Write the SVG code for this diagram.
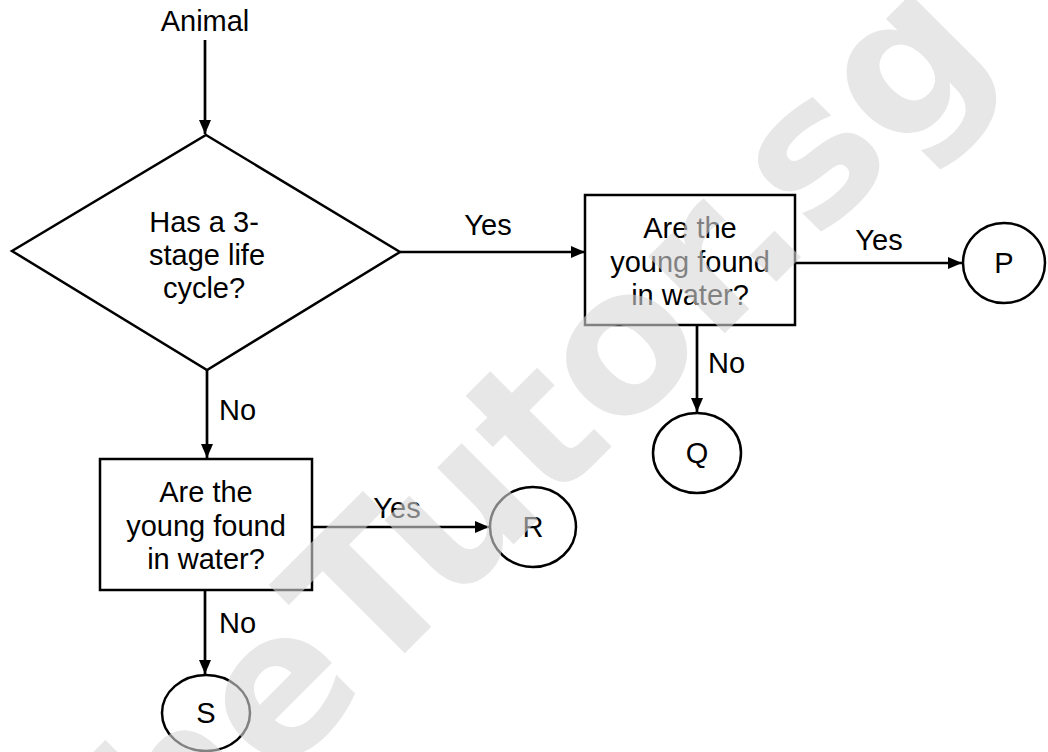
<svg xmlns="http://www.w3.org/2000/svg" width="1048" height="752" viewBox="0 0 1048 752">
  <style>
    .shape { fill: none; stroke: #000; stroke-width: 2.5; }
    .edge { fill: none; stroke: #000; stroke-width: 2.7; }
    .txt { font-family: "Liberation Sans", Arial, sans-serif; font-size: 29px; fill: #000; }
    .mid { text-anchor: middle; }
    .wm { font-family: "DejaVu Sans", Verdana, sans-serif; font-weight: bold; font-size: 198px; fill: #d8d8d8; opacity: 0.6; }
  </style>
  <defs>
    <marker id="arrow" viewBox="0 0 14 12" refX="14" refY="6" markerWidth="14" markerHeight="12" markerUnits="userSpaceOnUse" orient="auto">
      <path d="M0,0 L14,6 L0,12 Z" fill="#000"/>
    </marker>
  </defs>
  <rect width="1048" height="752" fill="#fff"/>

  <!-- connectors -->
  <g id="connectors">
    <line class="edge" x1="205" y1="40" x2="205" y2="134" marker-end="url(#arrow)"/>
    <line class="edge" x1="400" y1="252" x2="585" y2="252" marker-end="url(#arrow)"/>
    <line class="edge" x1="795" y1="263" x2="962" y2="263" marker-end="url(#arrow)"/>
    <line class="edge" x1="697" y1="325" x2="697" y2="412" marker-end="url(#arrow)"/>
    <line class="edge" x1="207" y1="370" x2="207" y2="458" marker-end="url(#arrow)"/>
    <line class="edge" x1="312" y1="527" x2="489" y2="527" marker-end="url(#arrow)"/>
    <line class="edge" x1="205" y1="590" x2="205" y2="674" marker-end="url(#arrow)"/>
    <text class="txt mid" x="488" y="235">Yes</text>
    <text class="txt mid" x="879" y="250">Yes</text>
    <text class="txt mid" x="397" y="518">Yes</text>
    <text class="txt" x="219" y="420">No</text>
    <text class="txt" x="219" y="633">No</text>
    <text class="txt" x="708" y="373">No</text>
  </g>

  <g id="start">
    <text class="txt mid" x="205" y="31">Animal</text>
  </g>

  <g id="decision-life-cycle">
    <polygon class="shape" points="206,135 400,252 207,370 12,251"/>
    <text class="txt mid" x="204" y="232">Has a 3-</text>
    <text class="txt mid" x="207" y="265">stage life</text>
    <text class="txt mid" x="204" y="298">cycle?</text>
  </g>

  <g id="decision-water-yes">
    <rect class="shape" x="585" y="195" width="210" height="130"/>
    <text class="txt mid" x="690" y="238">Are the</text>
    <text class="txt mid" x="690" y="272">young found</text>
    <text class="txt mid" x="690" y="305">in water?</text>
  </g>

  <g id="decision-water-no">
    <rect class="shape" x="100" y="459" width="212" height="131"/>
    <text class="txt mid" x="206" y="502">Are the</text>
    <text class="txt mid" x="206" y="536">young found</text>
    <text class="txt mid" x="206" y="569">in water?</text>
  </g>

  <g id="result-p">
    <ellipse class="shape" cx="1004" cy="263" rx="41" ry="40"/>
    <text class="txt mid" x="1004" y="273">P</text>
  </g>

  <g id="result-q">
    <ellipse class="shape" cx="697" cy="453" rx="44" ry="40"/>
    <text class="txt mid" x="697" y="463">Q</text>
  </g>

  <g id="result-r">
    <ellipse class="shape" cx="533" cy="527" rx="43" ry="40"/>
    <text class="txt mid" x="533" y="537">R</text>
  </g>

  <g id="result-s">
    <ellipse class="shape" cx="206" cy="713" rx="44" ry="38"/>
    <text class="txt mid" x="206" y="723">S</text>
  </g>

  <!-- site mark laid over the chart -->
  <g id="watermark">
    <text class="wm" transform="translate(80,978) rotate(-45)">TheTutor.sg</text>
  </g>
</svg>
